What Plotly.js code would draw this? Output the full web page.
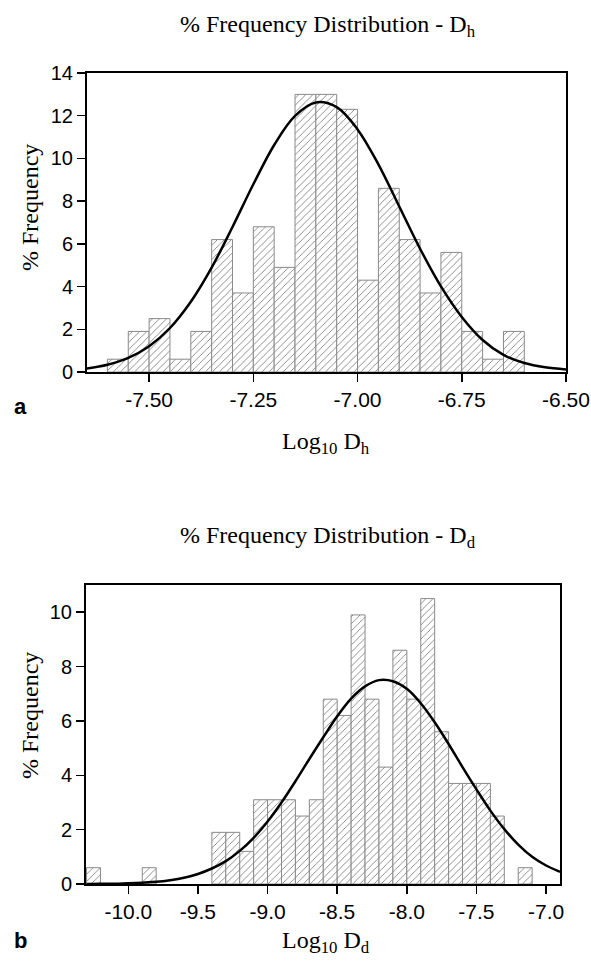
<!DOCTYPE html>
<html>
<head>
<meta charset="utf-8">
<script src="https://cdn.plot.ly/plotly-3.0.1.min.js"></script>
<style>
html,body{margin:0;padding:0;background:#fff;}
#chart{width:591px;height:961px;}
</style>
</head>
<body>
<div id="chart"></div>
<script>
// ---------- Panel a : D_h ----------
var hBinCenters = [-7.575,-7.525,-7.475,-7.425,-7.375,-7.325,-7.275,-7.225,-7.175,-7.125,
                   -7.075,-7.025,-6.975,-6.925,-6.875,-6.825,-6.775,-6.725,-6.675,-6.625];
var hPercent    = [0.6,1.9,2.5,0.6,1.9,6.2,3.7,6.8,4.9,13.0,
                   13.0,12.3,4.3,8.6,6.2,3.7,5.6,1.9,0.6,1.9];
var hCurveX = [-7.65,-7.60,-7.55,-7.50,-7.45,-7.40,-7.35,-7.30,-7.25,-7.20,-7.15,-7.10,
               -7.05,-7.00,-6.95,-6.90,-6.85,-6.80,-6.75,-6.70,-6.65,-6.60,-6.55,-6.50];
var hCurveY = [0.16,0.34,0.66,1.21,2.06,3.29,4.89,6.79,8.79,10.63,11.99,12.62,
               12.40,11.36,9.72,7.75,5.77,4.01,2.58,1.50,0.80,0.42,0.22,0.12];
var hTickVals = [-7.50,-7.25,-7.00,-6.75,-6.50];
var hTickText = ['-7.50','-7.25','-7.00','-6.75','-6.50'];
var hYTicks = [0,2,4,6,8,10,12,14];

// ---------- Panel b : D_d ----------
var dBinCenters = [-10.25,-9.85,-9.35,-9.25,-9.15,-9.05,-8.95,-8.85,-8.75,-8.65,-8.55,-8.45,
                   -8.35,-8.25,-8.15,-8.05,-7.95,-7.85,-7.75,-7.65,-7.55,-7.45,-7.35,-7.15];
var dPercent    = [0.6,0.6,1.9,1.9,1.2,3.1,3.1,3.1,2.5,3.1,6.8,6.2,
                   9.9,6.8,4.3,8.6,6.8,10.5,5.6,3.7,3.7,3.7,2.5,0.6];
var dCurveX = [-10.3,-10.2,-10.1,-10.0,-9.9,-9.8,-9.7,-9.6,-9.5,-9.4,-9.3,-9.2,-9.1,-9.0,
               -8.9,-8.8,-8.7,-8.6,-8.5,-8.4,-8.3,-8.2,-8.1,-8.0,-7.9,-7.8,-7.7,-7.6,
               -7.5,-7.4,-7.3,-7.2,-7.1,-7.0,-6.9];
var dCurveY = [0.00,0.01,0.01,0.03,0.05,0.08,0.14,0.23,0.37,0.57,0.84,1.22,1.70,2.30,
               3.00,3.78,4.60,5.40,6.17,6.82,7.27,7.50,7.46,7.18,6.65,5.95,5.15,4.30,
               3.48,2.70,2.02,1.45,1.00,0.68,0.45];
var dTickVals = [-10.0,-9.5,-9.0,-8.5,-8.0,-7.5,-7.0];
var dTickText = ['-10.0','-9.5','-9.0','-8.5','-8.0','-7.5','-7.0'];
var dYTicks = [0,2,4,6,8,10];

var W = 591, H = 961;
function PX(x){ return x / W; }
function PY(y){ return 1 - y / H; }

var barMarker = {
  color: 'white',
  line: {color: '#8a8a8a', width: 1},
  pattern: {shape: '/', fgcolor: '#6a6a6a', bgcolor: 'white', size: 5, solidity: 0.15}
};

var traces = [
  {type:'bar', x:hBinCenters, y:hPercent, width:0.05, marker:barMarker,
   xaxis:'x', yaxis:'y', hoverinfo:'skip'},
  {type:'scatter', mode:'lines', x:hCurveX, y:hCurveY, line:{color:'#000', width:2.5, shape:'spline'},
   xaxis:'x', yaxis:'y'},
  {type:'bar', x:dBinCenters, y:dPercent, width:0.1, marker:barMarker,
   xaxis:'x2', yaxis:'y2', hoverinfo:'skip'},
  {type:'scatter', mode:'lines', x:dCurveX, y:dCurveY, line:{color:'#000', width:2.5, shape:'spline'},
   xaxis:'x2', yaxis:'y2'}
];

var serif = 'Liberation Serif, Times New Roman, serif';
var sans = 'Liberation Sans, Arial, sans-serif';

function axisCommon(extra){
  var a = {
    showline:true, mirror:true, linecolor:'#000', linewidth:2,
    ticks:'outside', ticklen:8, tickwidth:1.5, tickcolor:'#000',
    showgrid:false, zeroline:false, fixedrange:true,
    tickfont:{family:sans, size:20, color:'#000'}
  };
  for (var k in extra) a[k] = extra[k];
  return a;
}

var layout = {
  width: W, height: H,
  margin: {l:0, r:0, t:0, b:0},
  font: {family:sans, size:20, color:'#000'},
  paper_bgcolor:'white', plot_bgcolor:'white',
  showlegend:false, bargap:0,
  xaxis: axisCommon({domain:[PX(87), PX(566)], range:[-7.649,-6.50], anchor:'y',
                     tickmode:'array', tickvals:hTickVals, ticktext:hTickText,
                     tickfont:{family:sans, size:21, color:'#000'}}),
  yaxis: axisCommon({domain:[PY(372), PY(73)], range:[0,14], anchor:'x',
                     tickmode:'array', tickvals:hYTicks}),
  xaxis2: axisCommon({domain:[PX(86), PX(560)], range:[-10.304,-6.90], anchor:'y2',
                     tickmode:'array', tickvals:dTickVals, ticktext:dTickText,
                     tickfont:{family:sans, size:21, color:'#000'}}),
  yaxis2: axisCommon({domain:[PY(884), PY(585)], range:[0,11], anchor:'x2',
                     tickmode:'array', tickvals:dYTicks}),
  annotations: [
    {text:'% Frequency Distribution - D<sub>h</sub>', xref:'paper', yref:'paper',
     x:PX(328), y:PY(26), xanchor:'center', yanchor:'middle', showarrow:false,
     font:{family:serif, size:24, color:'#000'}},
    {text:'% Frequency', xref:'paper', yref:'paper', x:PX(30), y:PY(208), textangle:-90,
     xanchor:'center', yanchor:'middle', showarrow:false, font:{family:serif, size:24, color:'#000'}},
    {text:'Log<sub>10</sub> D<sub>h</sub>', xref:'paper', yref:'paper',
     x:PX(326), y:PY(443), xanchor:'center', yanchor:'middle', showarrow:false,
     font:{family:serif, size:24, color:'#000'}},
    {text:'<b>a</b>', xref:'paper', yref:'paper', x:PX(20), y:PY(406),
     xanchor:'center', yanchor:'middle', showarrow:false,
     font:{family:sans, size:22, color:'#000'}},

    {text:'% Frequency Distribution - D<sub>d</sub>', xref:'paper', yref:'paper',
     x:PX(328), y:PY(537), xanchor:'center', yanchor:'middle', showarrow:false,
     font:{family:serif, size:24, color:'#000'}},
    {text:'% Frequency', xref:'paper', yref:'paper', x:PX(30), y:PY(716), textangle:-90,
     xanchor:'center', yanchor:'middle', showarrow:false, font:{family:serif, size:24, color:'#000'}},
    {text:'Log<sub>10</sub> D<sub>d</sub>', xref:'paper', yref:'paper',
     x:PX(326), y:PY(942), xanchor:'center', yanchor:'middle', showarrow:false,
     font:{family:serif, size:24, color:'#000'}},
    {text:'<b>b</b>', xref:'paper', yref:'paper', x:PX(20), y:PY(940),
     xanchor:'center', yanchor:'middle', showarrow:false,
     font:{family:sans, size:22, color:'#000'}}
  ]
};

Plotly.newPlot('chart', traces, layout, {displayModeBar:false, staticPlot:true});
</script>
</body>
</html>
